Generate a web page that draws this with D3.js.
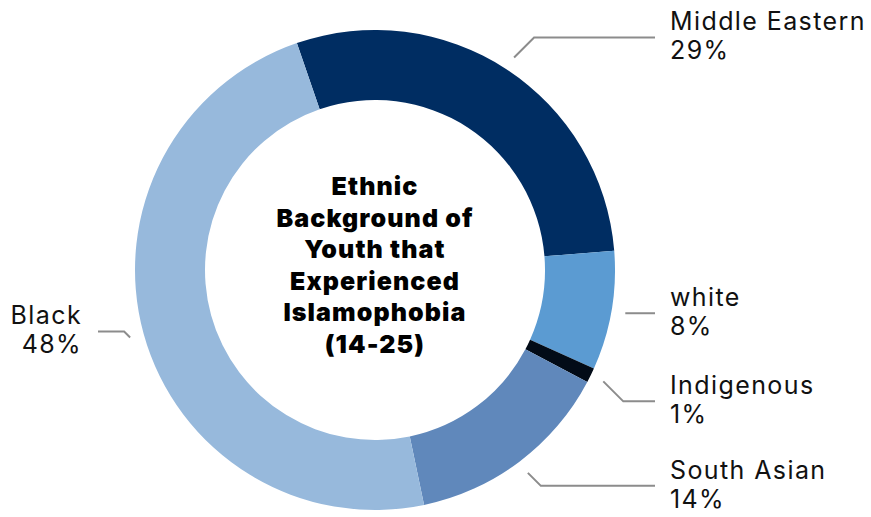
<!DOCTYPE html>
<html>
<head>
<meta charset="utf-8">
<script src="https://cdn.jsdelivr.net/npm/d3@7"></script>
<style>
  body { margin: 0; background: #fff; }
  svg { display: block; }
  .lbl { font-family: Inter, "Noto Sans", sans-serif; font-size: 25px; letter-spacing: 1.4px; fill: #111; }
  .title { font-family: Inter, "Noto Sans", sans-serif; font-size: 25px; font-weight: 900; letter-spacing: 1.1px; fill: #000; }
</style>
</head>
<body>
<svg id="chart"></svg>
<script>
var groups = ["Middle Eastern", "white", "Indigenous", "South Asian", "Black"];
var shares = [29, 8, 1, 14, 48];
var colors = ["#002d62", "#5b9bd2", "#020b17", "#6088bb", "#97b9dc"];
var titleLines = ["Ethnic", "Background of", "Youth that", "Experienced", "Islamophobia", "(14-25)"];

// leader line elbow rise for each label
var elbow = [-20, 0, 20, 13, -6];

var width = 871, height = 517;
var cx = 375, cy = 270;
var rOuter = 240, rInner = 170, rLine = 254;

var svg = d3.select("#chart")
    .attr("width", width)
    .attr("height", height);

var g = svg.append("g").attr("transform", "translate(" + cx + "," + cy + ")");

var start = -19 * Math.PI / 180;
var pie = d3.pie().sort(null).value(function (d) { return d; })
    .startAngle(start).endAngle(start + 2 * Math.PI);
var arc = d3.arc().innerRadius(rInner).outerRadius(rOuter);

var slices = pie(shares);

g.selectAll(".slice")
    .data(slices)
    .enter().append("path")
    .attr("class", "slice")
    .attr("d", arc)
    .attr("fill", function (d, i) { return colors[i]; });

slices.forEach(function (d, i) {
    var a = (d.startAngle + d.endAngle) / 2;
    var x0 = rLine * Math.sin(a), y0 = -rLine * Math.cos(a);
    var right = x0 > 0;
    var y1 = y0 + elbow[i];
    var x1 = x0 + (right ? 1 : -1) * Math.abs(elbow[i]);
    var x2 = right ? 655 - cx : 98 - cx;
    g.append("polyline")
        .attr("points", [[x0, y0], [x1, y1], [x2, y1]].map(function (p) { return p.join(","); }).join(" "))
        .attr("fill", "none")
        .attr("stroke", "#8c8c8c")
        .attr("stroke-width", 2);

    var tx = right ? 670 - cx : 82 - cx;
    var t = g.append("text")
        .attr("class", "lbl")
        .attr("text-anchor", right ? "start" : "end")
        .attr("x", tx)
        .attr("y", y1 - 7);
    t.append("tspan").attr("x", tx).text(groups[i]);
    t.append("tspan").attr("x", tx).attr("dy", 29).text(shares[i] + "%");
});

g.append("text")
    .attr("class", "title")
    .attr("text-anchor", "middle")
    .selectAll("tspan")
    .data(titleLines)
    .enter().append("tspan")
    .attr("x", 0)
    .attr("y", function (d, i) { return 195 - cy + i * 31.6; })
    .text(function (d) { return d; });
</script>
</body>
</html>
